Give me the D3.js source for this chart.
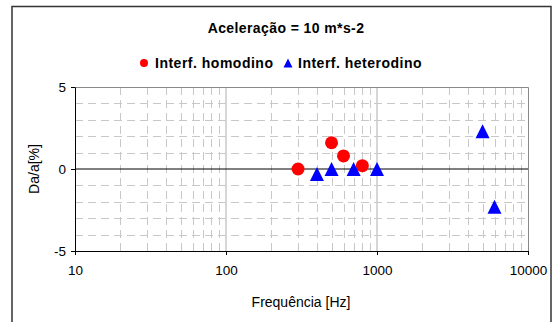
<!DOCTYPE html>
<html>
<head>
<meta charset="UTF-8">
<style>
  body { margin: 0; background: #fff; }
  text { font-family: "Liberation Sans", Arial, sans-serif; }
</style>
</head>
<body>
<script src="https://d3js.org/d3.v7.min.js"></script>
<svg width="555" height="322"></svg>
<script>
  // data
  var homoFreq = [300, 500, 600, 800];
  var homoDev = [0, 1.6, 0.8, 0.2];
  var heteroFreq = [400, 500, 700, 1000, 5000, 6000];
  var heteroDev = [-0.3, 0, 0, 0, 2.3, -2.3];
  var xTicks = [10, 100, 1000, 10000];
  var yTicks = [-5, 0, 5];
  var seriesNames = ["Interf. homodino", "Interf. heterodino"];

  var svg = d3.select("svg");
  var pL = 75, pR = 528, pT = 87, pB = 251;

  var x = d3.scaleLog().domain([10, 10000]).range([pL, pR]);
  var y = d3.scaleLinear().domain([-5, 5]).range([pB, pT]);

  // chart border
  svg.append("rect")
    .attr("x", 12).attr("y", 6.5)
    .attr("width", 539).attr("height", 330)
    .attr("fill", "none").attr("stroke", "#333").attr("stroke-width", 1.5);

  // grid
  var g = svg.append("g");
  var minorX = [];
  [10, 100, 1000].forEach(function(d) {
    for (var k = 2; k <= 9; k++) minorX.push(d * k);
  });
  g.selectAll(".vminor").data(minorX).enter().append("line")
    .attr("x1", function(d) { return Math.round(x(d)) + 0.5; })
    .attr("x2", function(d) { return Math.round(x(d)) + 0.5; })
    .attr("y1", pT).attr("y2", pB)
    .attr("stroke", "#c8c8c8").attr("stroke-dasharray", "8,5");
  var hGrid = d3.range(-4, 5).filter(function(d) { return d !== 0; });
  g.selectAll(".hgrid").data(hGrid).enter().append("line")
    .attr("x1", pL).attr("x2", pR)
    .attr("y1", function(d) { return Math.round(y(d)) + 0.5; })
    .attr("y2", function(d) { return Math.round(y(d)) + 0.5; })
    .attr("stroke", "#c8c8c8").attr("stroke-dasharray", "8,5");
  g.selectAll(".vmajor").data([100, 1000]).enter().append("line")
    .attr("x1", function(d) { return x(d); })
    .attr("x2", function(d) { return x(d); })
    .attr("y1", pT).attr("y2", pB)
    .attr("stroke", "#c8c8c8").attr("stroke-width", 1.5);

  // plot border top/right
  svg.append("path")
    .attr("d", "M" + pL + "," + (pT + 0.5) + "H" + (pR + 0.5) + "V" + pB)
    .attr("fill", "none").attr("stroke", "#888");

  // axes
  svg.append("line")
    .attr("x1", pL).attr("x2", pR).attr("y1", y(0)).attr("y2", y(0))
    .attr("stroke", "#000");

  var xAxis = svg.append("g")
    .attr("transform", "translate(0," + pB + ")")
    .call(d3.axisBottom(x).tickValues(xTicks).tickFormat(d3.format("d"))
      .tickSizeInner(4).tickSizeOuter(0).tickPadding(10));
  xAxis.select(".domain").attr("stroke", "#000");
  xAxis.selectAll("text").attr("font-size", 13.5).attr("fill", "#000");

  var yAxis = svg.append("g")
    .attr("transform", "translate(" + pL + ",0)")
    .call(d3.axisLeft(y).tickValues(yTicks).tickSizeInner(4).tickSizeOuter(0).tickPadding(5));
  yAxis.select(".domain").attr("stroke", "#000");
  yAxis.selectAll("text").attr("font-size", 13.5).attr("fill", "#000")
    .text(function(d) { return d < 0 ? "-" + (-d) : d; });

  // titles
  svg.append("text").attr("x", 286).attr("y", 33)
    .attr("text-anchor", "middle").attr("font-size", 14).attr("font-weight", "bold")
    .attr("letter-spacing", 0.4)
    .text("Aceleração = 10 m*s-2");
  svg.append("text").attr("x", 301).attr("y", 307)
    .attr("text-anchor", "middle").attr("font-size", 14)
    .text("Frequência [Hz]");
  svg.append("text")
    .attr("transform", "translate(39,169) rotate(-90)")
    .attr("text-anchor", "middle").attr("font-size", 14)
    .text("Da/a[%]");

  // marks
  function tri(s) {
    return "M0," + (-s) + "L" + s + "," + s + "L" + (-s) + "," + s + "Z";
  }
  svg.selectAll(".homo").data(homoFreq).enter().append("circle")
    .attr("cx", function(d) { return x(d); })
    .attr("cy", function(d, i) { return y(homoDev[i]); })
    .attr("r", 6.5).attr("fill", "#ff0000");
  svg.selectAll(".hetero").data(heteroFreq).enter().append("path")
    .attr("transform", function(d, i) { return "translate(" + x(d) + "," + y(heteroDev[i]) + ")"; })
    .attr("d", tri(7)).attr("fill", "#0000ff");

  // legend
  var lg = svg.append("g").attr("transform", "translate(0,63)");
  lg.append("circle").attr("cx", 144).attr("cy", 0).attr("r", 4).attr("fill", "#ff0000");
  lg.append("text").attr("x", 155).attr("y", 5).attr("font-size", 14).attr("font-weight", "bold")
    .attr("letter-spacing", 0.5)
    .text(seriesNames[0]);
  lg.append("path").attr("transform", "translate(288,0)").attr("d", tri(4.5)).attr("fill", "#0000ff");
  lg.append("text").attr("x", 298).attr("y", 5).attr("font-size", 14).attr("font-weight", "bold")
    .attr("letter-spacing", 0.5)
    .text(seriesNames[1]);
</script>
</body>
</html>
